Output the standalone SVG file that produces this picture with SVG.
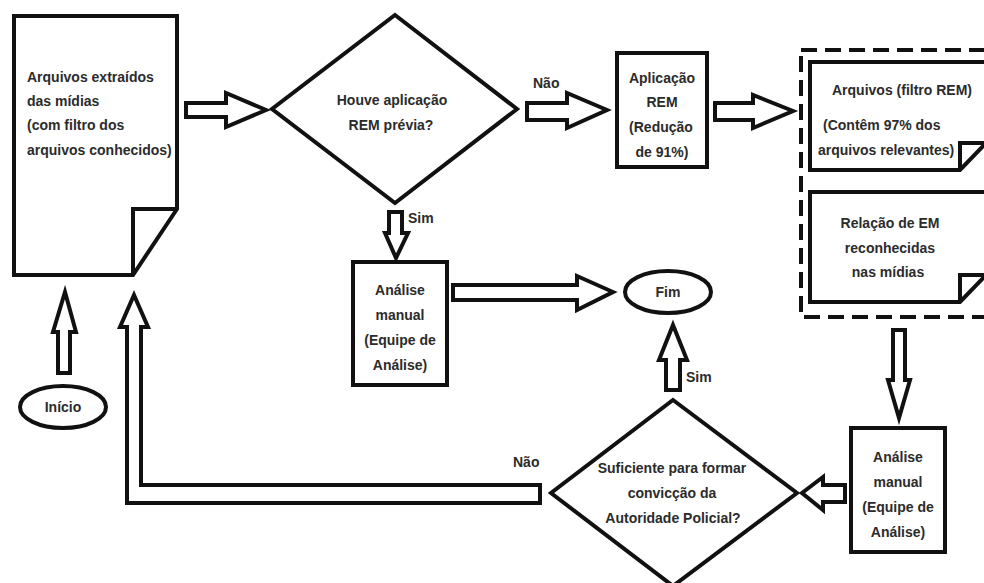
<svg xmlns="http://www.w3.org/2000/svg" width="984" height="583" viewBox="0 0 984 583">
<style>
.s{fill:#fff;stroke:#111;stroke-width:4;stroke-linejoin:miter;stroke-miterlimit:10}
.f{fill:none;stroke:#111;stroke-width:4;stroke-linejoin:miter}
.d{fill:none;stroke:#111;stroke-width:4;stroke-dasharray:16 8}
text{font-family:"Liberation Sans",Arial,sans-serif;font-size:14px;font-weight:bold;fill:#2b2b2b}
.c{text-anchor:middle}
</style>
<rect width="984" height="583" fill="#fff"/>
<g id="inicio">
<ellipse class="s" cx="63" cy="407" rx="43" ry="21"/>
<text class="c" x="63" y="412">Início</text>
</g>
<g id="arquivos-extraidos">
<path class="s" d="M14,16 H177 V209 L133,275 H14 Z"/>
<path class="f" d="M133,275 V209 H177"/>
<text x="27" y="82">Arquivos extraídos</text>
<text x="27" y="106">das mídias</text>
<text x="27" y="130">(com filtro dos</text>
<text x="27" y="155">arquivos conhecidos)</text>
</g>
<g id="decisao-rem">
<polygon class="s" points="395,15 517,109 395,203 272,109"/>
<text class="c" x="392" y="105">Houve aplicação</text>
<text class="c" x="391" y="130">REM prévia?</text>
</g>
<g id="aplicacao-rem">
<rect class="s" x="617" y="53" width="90" height="114"/>
<text class="c" x="662" y="83">Aplicação</text>
<text class="c" x="662" y="107">REM</text>
<text class="c" x="661" y="132">(Redução</text>
<text class="c" x="662" y="157">de 91%)</text>
</g>
<g id="grupo-resultados">
<rect class="d" x="801" y="50" width="200" height="267"/>
</g>
<g id="arquivos-filtro-rem">
<path class="s" d="M810,62 H986 V143 L960,170 H810 Z"/>
<path class="f" d="M960,170 V143 H986"/>
<text x="832" y="95">Arquivos (filtro REM)</text>
<text x="823" y="130">(Contêm 97% dos</text>
<text x="818" y="155">arquivos relevantes)</text>
</g>
<g id="relacao-em">
<path class="s" d="M810,192 H986 V275 L960,302 H810 Z"/>
<path class="f" d="M960,302 V275 H986"/>
<text class="c" x="890" y="228">Relação de EM</text>
<text class="c" x="890" y="253">reconhecidas</text>
<text class="c" x="888" y="277">nas mídias</text>
</g>
<g id="analise-manual-1">
<rect class="s" x="353" y="262" width="94" height="123"/>
<text class="c" x="400" y="295">Análise</text>
<text class="c" x="400" y="320">manual</text>
<text class="c" x="400" y="345">(Equipe de</text>
<text class="c" x="400" y="370">Análise)</text>
</g>
<g id="fim">
<ellipse class="s" cx="668" cy="292" rx="43" ry="21"/>
<text class="c" x="668" y="297">Fim</text>
</g>
<g id="analise-manual-2">
<rect class="s" x="851" y="428" width="94" height="124"/>
<text class="c" x="898" y="462">Análise</text>
<text class="c" x="898" y="487">manual</text>
<text class="c" x="898" y="512">(Equipe de</text>
<text class="c" x="898" y="537">Análise)</text>
</g>
<g id="decisao-suficiente">
<polygon class="s" points="673,400 797,493 673,586 551,493"/>
<text class="c" x="672" y="473">Suficiente para formar</text>
<text class="c" x="672" y="498">convicção da</text>
<text class="c" x="673" y="523">Autoridade Policial?</text>
</g>
<g id="connectors">
<polygon class="s" points="65,292 76,332 70,332 70,373 58,373 58,332 53,332"/>
<polygon class="s" points="186,103 226,103 226,93 266,110 226,127 226,117 186,117"/>
<polygon class="s" points="527,103 567,103 567,93 607,110 567,128 567,120 527,120"/>
<polygon class="s" points="715,103 753,103 753,95 793,111 753,128 753,120 715,120"/>
<polygon class="s" points="389,212 402,212 402,233 408,233 396,258 385,233 389,233"/>
<polygon class="s" points="453,285 577,285 577,276 613,292 577,310 577,300 453,300"/>
<polygon class="s" points="893,330 905,330 905,380 910,380 899,418 888,380 893,380"/>
<polygon class="s" points="845,485 845,502 823,502 823,510 802,493 823,477 823,485"/>
<polygon class="s" points="673,325 687,360 680,360 680,390 666,390 666,360 659,360"/>
<polygon class="s" points="134,295 148,327 141,327 141,485 540,485 540,503 127,503 127,327 120,327"/>
<text x="533" y="88">Não</text>
<text x="408" y="223">Sim</text>
<text x="686" y="382">Sim</text>
<text x="513" y="467">Não</text>
</g>
</svg>
